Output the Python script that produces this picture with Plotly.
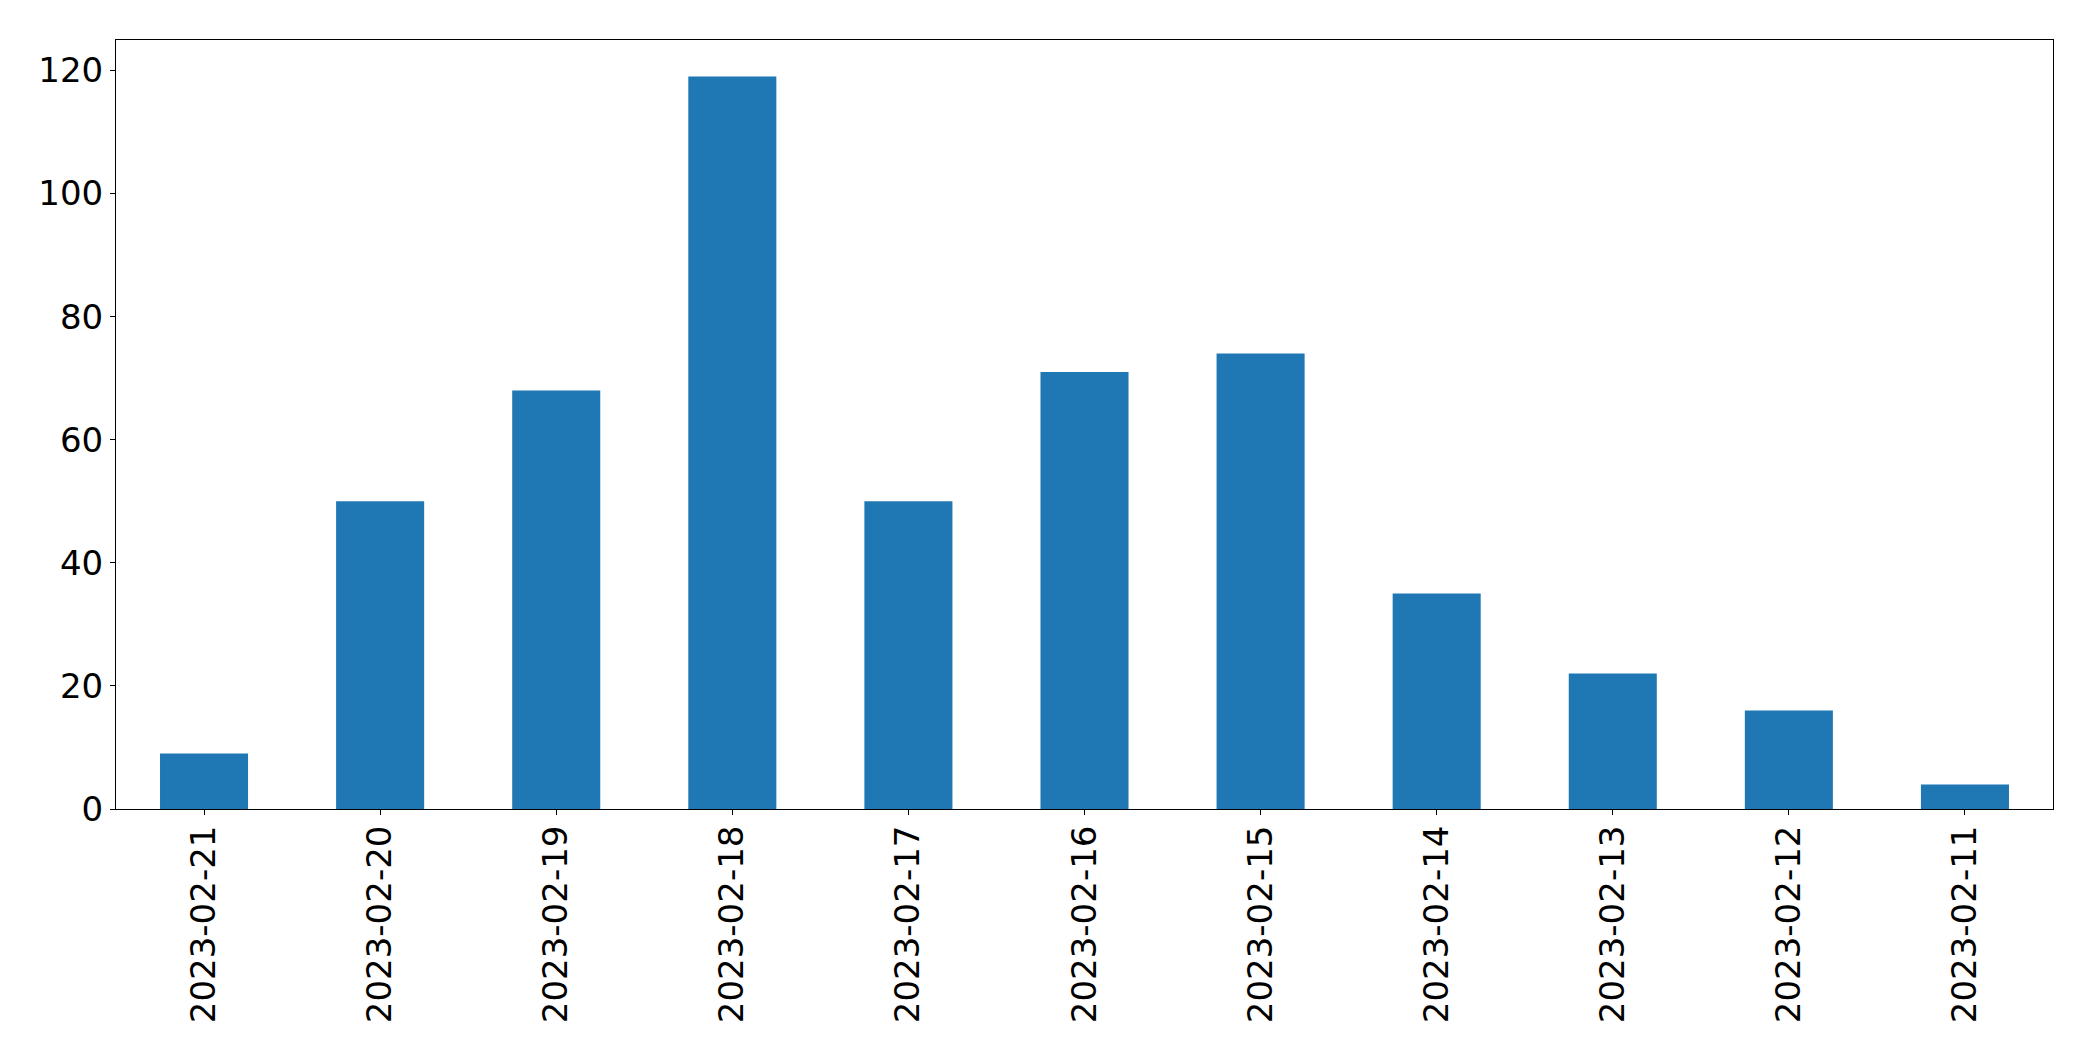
import plotly.graph_objects as go

dates = ["2023-02-21", "2023-02-20", "2023-02-19", "2023-02-18", "2023-02-17",
         "2023-02-16", "2023-02-15", "2023-02-14", "2023-02-13", "2023-02-12",
         "2023-02-11"]
counts = [9, 50, 68, 119, 50, 71, 74, 35, 22, 16, 4]
y_ticks = [0, 20, 40, 60, 80, 100, 120]

fig = go.Figure(go.Bar(x=dates, y=counts, width=0.5,
                       marker=dict(color="#1f77b4", line=dict(width=0))))

font = dict(family="DejaVu Sans", size=34, color="black")
fig.update_layout(
    width=2093, height=1061,
    margin=dict(l=116, r=40, t=40, b=252, pad=0),
    plot_bgcolor="white", paper_bgcolor="white",
    showlegend=False,
    font=font,
)
fig.update_xaxes(type="category", range=[-0.5, len(dates) - 0.5],
                 tickangle=-90, ticks="outside", ticklen=5, tickwidth=1,
                 tickcolor="black", showline=True, linecolor="black",
                 linewidth=1, mirror=True, showgrid=False, zeroline=False,
                 tickfont=font, ticklabelstandoff=-3)
fig.update_yaxes(range=[0, max(counts) * 1.05], tickvals=y_ticks,
                 ticks="outside", ticklen=5, tickwidth=1, tickcolor="black",
                 showline=True, linecolor="black", linewidth=1, mirror=True,
                 showgrid=False, zeroline=False, tickfont=font)

fig.write_html("out.html")
